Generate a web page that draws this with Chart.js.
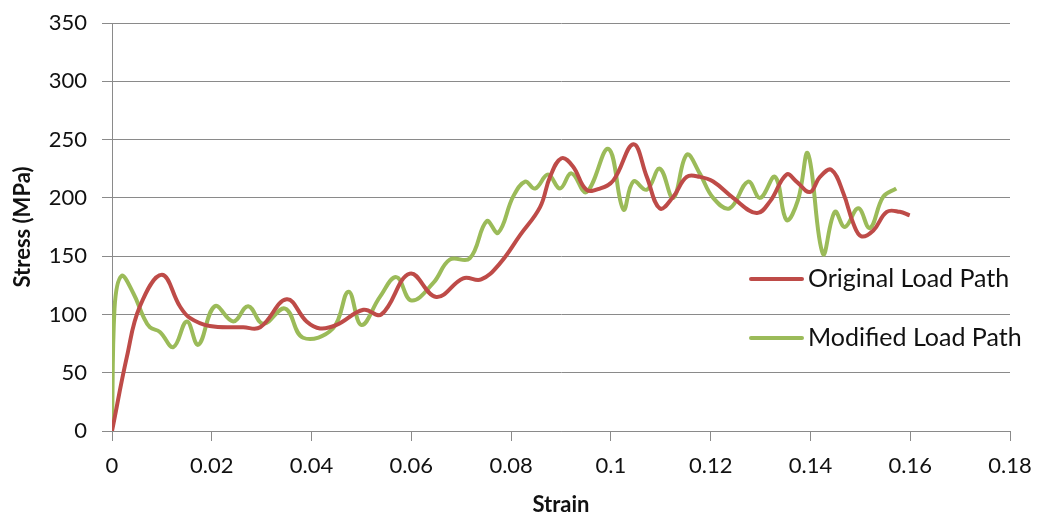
<!DOCTYPE html>
<html>
<head>
<meta charset="utf-8">
<script src="https://cdn.jsdelivr.net/npm/chart.js@4.4.1/dist/chart.umd.min.js"></script>
<style>
  html, body { margin: 0; padding: 0; background: #ffffff; }
  #wrap { width: 1040px; height: 518px; position: relative; }
</style>
</head>
<body>
<div id="wrap"><canvas id="c" width="1040" height="518"></canvas></div>
<script>
// ---- Data ----
const seriesNames = ["Original Load Path", "Modified Load Path"];

const originalStrain = [0, 0.003, 0.0056, 0.01, 0.0136, 0.0156, 0.0196, 0.0263, 0.0297, 0.035,
  0.039, 0.0417, 0.045, 0.0504, 0.054, 0.0597, 0.065, 0.0704, 0.074, 0.0778,
  0.0818, 0.0858, 0.0878, 0.0901, 0.0924, 0.0951, 0.0978, 0.1005, 0.1045, 0.1072,
  0.1098, 0.1125, 0.1152, 0.1178, 0.1205, 0.1245, 0.1292, 0.1319, 0.1352, 0.1372,
  0.1399, 0.1419, 0.1442, 0.1466, 0.1486, 0.1502, 0.1526, 0.1553, 0.1579, 0.1599];
const originalStress = [0, 64, 107, 134, 107, 97, 90, 89, 89, 113,
  94, 88, 91, 104, 100, 135, 115, 131, 130, 144,
  168, 192, 218, 234, 227, 207, 208, 215, 246, 218,
  191, 201, 218, 218, 214, 200, 187, 197, 220, 214,
  205, 218, 224, 204, 178, 167, 172, 188, 188, 185];

const modifiedStrain = [0, 0.0005, 0.0019, 0.0043, 0.0063, 0.0076, 0.0096, 0.0123, 0.015, 0.0173,
  0.0206, 0.0243, 0.0273, 0.0303, 0.0347, 0.0383, 0.0443, 0.0474, 0.05, 0.0537,
  0.057, 0.06, 0.0644, 0.0677, 0.0717, 0.0751, 0.0774, 0.0804, 0.0828, 0.0848,
  0.0874, 0.0898, 0.0921, 0.0951, 0.0995, 0.1025, 0.1045, 0.1072, 0.1098, 0.1125,
  0.1152, 0.1178, 0.1205, 0.1238, 0.1275, 0.1299, 0.1329, 0.1352, 0.1375, 0.1395,
  0.1425, 0.1449, 0.1469, 0.1496, 0.1519, 0.1546, 0.1572];
const modifiedStress = [0, 105, 133, 118, 98, 89, 85, 72, 94, 74,
  107, 94, 107, 92, 105, 80, 88, 119.5, 91, 115,
  132, 112, 127, 147, 148, 180, 170, 201, 214, 208,
  220, 208, 221, 205, 242, 190, 214, 207, 225, 200,
  237, 221, 200, 191, 214, 200, 218, 181, 198, 238,
  152, 188, 175, 191, 174, 201, 208];

const xAxisTitle = "Strain";
const yAxisTitle = "Stress (MPa)";
const xRange = [0, 0.18], xStep = 0.02;
const yRange = [0, 350], yStep = 50;

const seriesColors = ["#BE4B48", "#9BBB59"];

function toPoints(xs, ys) { return xs.map((x, i) => ({ x: x, y: ys[i] })); }

const gridColor = "#8a8a8a";
const textColor = "#111111";
const fontFamily = "Lato, 'Open Sans', sans-serif";

const legendPlugin = {
  id: "insideLegend",
  afterDraw(chart) {
    const ctx = chart.ctx;
    const rows = [279, 338];
    ctx.save();
    chart.data.datasets.forEach((ds, i) => {
      const y = rows[i];
      ctx.strokeStyle = ds.borderColor;
      ctx.lineWidth = 4;
      ctx.lineCap = "round";
      ctx.beginPath();
      ctx.moveTo(751, y);
      ctx.lineTo(802, y);
      ctx.stroke();
      ctx.fillStyle = textColor;
      ctx.font = "25px " + fontFamily;
      ctx.textBaseline = "middle";
      ctx.textAlign = "left";
      ctx.fillText(ds.label, 808, y);
    });
    ctx.restore();
  }
};

new Chart(document.getElementById("c"), {
  type: "line",
  data: {
    datasets: [
      { label: seriesNames[0], data: toPoints(originalStrain, originalStress),
        borderColor: seriesColors[0], backgroundColor: seriesColors[0],
        borderWidth: 4, pointRadius: 0, tension: 0.4, fill: false },
      { label: seriesNames[1], data: toPoints(modifiedStrain, modifiedStress),
        borderColor: seriesColors[1], backgroundColor: seriesColors[1],
        borderWidth: 4, pointRadius: 0, tension: 0.4, fill: false }
    ]
  },
  options: {
    responsive: false,
    animation: false,
    devicePixelRatio: 1,
    layout: { padding: { top: 23, right: 30, left: 0, bottom: 0 } },
    plugins: { legend: { display: false }, tooltip: { enabled: false } },
    scales: {
      x: {
        type: "linear",
        min: xRange[0], max: xRange[1],
        afterFit(s) { s.height = 87; s.paddingLeft = 0; s.paddingRight = 0; },
        ticks: {
          stepSize: xStep,
          color: textColor,
          font: { family: fontFamily, size: 22 },
          padding: 12,
          maxRotation: 0,
          callback: v => String(Number(v.toFixed(2)))
        },
        grid: { drawOnChartArea: false, drawTicks: true, tickLength: 10, color: gridColor, tickColor: gridColor },
        border: { display: true, color: gridColor, width: 1 },
        title: { display: true, text: xAxisTitle, color: textColor,
          font: { family: fontFamily, size: 22, weight: "bold", lineHeight: 1.2 },
          padding: { top: 0, bottom: 0 } }
      },
      y: {
        type: "linear",
        min: yRange[0], max: yRange[1],
        afterFit(s) { s.width = 112; s.paddingTop = 0; s.paddingBottom = 0; },
        ticks: {
          stepSize: yStep,
          color: textColor,
          font: { family: fontFamily, size: 22 },
          padding: 15
        },
        grid: { drawOnChartArea: true, drawTicks: true, tickLength: 10, color: gridColor, tickColor: gridColor },
        border: { display: true, color: gridColor, width: 1 },
        title: { display: true, text: yAxisTitle, color: textColor,
          font: { family: fontFamily, size: 22, weight: "bold", lineHeight: 1.2 },
          padding: { top: 10, bottom: 0 } }
      }
    }
  },
  plugins: [legendPlugin]
});
</script>
</body>
</html>
